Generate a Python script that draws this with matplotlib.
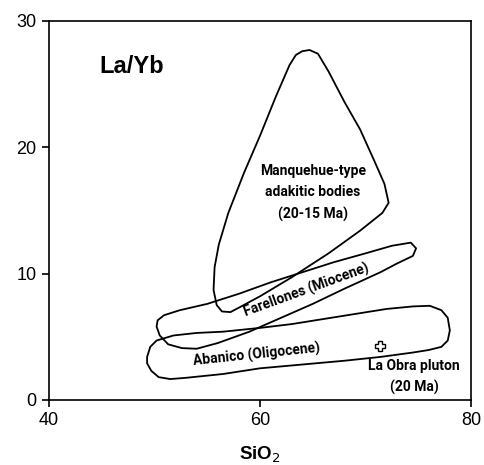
import matplotlib
matplotlib.use("Agg")
import matplotlib.pyplot as plt

# outlines (SiO2, La/Yb)
manquehue_x = [64.0, 64.7, 65.5, 66.5, 68.0, 69.5, 70.8, 71.8, 72.2, 71.6, 69.5, 66.5, 63.0, 60.0, 58.0, 57.2,
               56.4, 55.9, 55.6, 55.7, 56.1, 57.0, 58.5, 60.0, 61.5, 62.8, 63.4]
manquehue_y = [27.6, 27.7, 27.4, 26.0, 23.6, 21.4, 19.0, 17.1, 15.6, 14.8, 13.4, 11.6, 9.7, 8.2, 7.3, 6.95,
               7.0, 7.5, 8.7, 10.5, 12.3, 14.8, 18.0, 20.9, 24.0, 26.5, 27.3]

farellones_x = [50.3, 50.9, 52.4, 55.0, 58.0, 61.0, 64.0, 67.0, 70.0, 72.5, 74.3, 74.8, 74.5, 73.0, 71.4, 68.0,
                65.0, 62.0, 59.0, 56.0, 54.0, 52.6, 51.3, 50.5, 50.2]
farellones_y = [6.3, 6.7, 7.1, 7.6, 8.4, 9.3, 10.1, 10.9, 11.6, 12.2, 12.45, 12.0, 11.4, 10.8, 10.1, 8.8,
                7.6, 6.5, 5.4, 4.5, 4.05, 4.1, 4.4, 5.1, 5.8]

abanico_x = [49.3, 49.6, 50.2, 51.8, 54.0, 56.5, 60.0, 63.0, 66.0, 69.0, 72.0, 74.5, 76.1, 77.2, 77.8, 78.0,
             77.8, 77.2, 76.0, 74.5, 71.4, 68.0, 64.0, 60.0, 56.5, 53.0, 51.5, 50.4, 49.7, 49.3]
abanico_y = [3.4, 4.2, 4.7, 5.1, 5.3, 5.4, 5.7, 6.0, 6.4, 6.8, 7.2, 7.4, 7.45, 7.1, 6.5, 5.5,
             4.7, 4.2, 3.95, 3.75, 3.4, 3.1, 2.8, 2.5, 2.05, 1.75, 1.65, 1.8, 2.3, 2.9]

la_obra_x = [71.4]
la_obra_y = [4.3]

plt.rcParams["font.family"] = ["Liberation Sans", "DejaVu Sans"]

# narrower font for the field labels
lab = dict(family=["Roboto", "DejaVu Sans"], fontsize=10, fontweight="bold")

fig = plt.figure(figsize=(4.85, 4.65), dpi=100)
ax = fig.add_axes([0.101, 0.140, 0.870, 0.815])

for xs, ys in [(manquehue_x, manquehue_y), (farellones_x, farellones_y), (abanico_x, abanico_y)]:
    ax.fill(xs, ys, facecolor="none", edgecolor="black", lw=1.3, joinstyle="round")

ax.plot(la_obra_x, la_obra_y, marker="P", ms=7, mfc="white", mec="black", mew=1.0, ls="none")

ax.text(44.8, 26.4, "La/Yb", fontsize=17, fontweight="bold", va="center", ha="left")
ax.text(65.0, 16.4, "Manquehue-type\nadakitic bodies\n(20-15 Ma)", ha="center", va="center",
        linespacing=1.65, **lab)
ax.text(64.4, 8.7, "Farellones (Miocene)", ha="center", va="center", rotation=20, **lab)
ax.text(59.7, 3.55, "Abanico (Oligocene)", ha="center", va="center", rotation=6, **lab)
ax.text(74.6, 1.8, "La Obra pluton\n(20 Ma)", ha="center", va="center", linespacing=1.65, **lab)

ax.set_xlim(40, 80)
ax.set_ylim(0, 30)
ax.set_xticks([40, 60, 80])
ax.set_yticks([0, 10, 20, 30])
ax.tick_params(direction="out", length=5, width=1.2, labelsize=13, pad=4)
for s in ax.spines.values():
    s.set_linewidth(1.2)
ax.set_xlabel("SiO$_2$", fontsize=13.5, fontweight="bold", labelpad=11)

fig.savefig("out.png", dpi=100)
